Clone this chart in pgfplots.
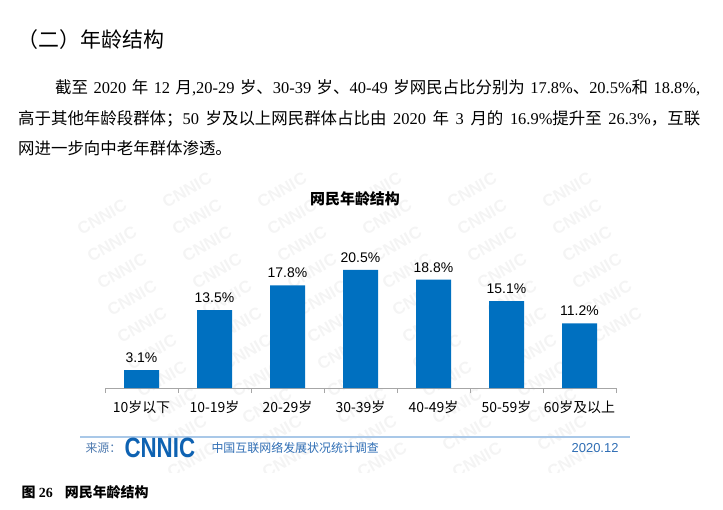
\documentclass[border=0pt]{standalone}
\usepackage{fontspec}
\usepackage{pgfplots}
\pgfplotsset{compat=1.18}
\setmainfont{Liberation Serif}
\newfontfamily\cjk{Noto Sans CJK SC}
\newfontfamily\arial{Liberation Sans}
\newcommand\zh[1]{{\cjk #1}}
\definecolor{barblue}{HTML}{0070C0}
\definecolor{wm}{HTML}{F4F4F4}
\definecolor{srcblue}{HTML}{2E6DB4}
\definecolor{srcgray}{HTML}{4F7BB0}
\definecolor{logoblue}{HTML}{0E62B2}
\definecolor{rulecol}{HTML}{A9C8E8}

\begin{document}
\begin{tikzpicture}
\useasboundingbox (0bp,0bp) rectangle (723bp,-510bp);

% watermark, only where the chart image lies
\begin{scope}[x=1bp,y=1bp]
\clip (78,-168) rectangle (648,-472);
\foreach \i in {-2,...,6}{
  \foreach \j in {0,...,10}{
    \pgfmathsetmacro\xx{92+95*\i+10*\j}
    \pgfmathtruncatemacro\ok{and(\xx>100,\xx<625)}
    \ifnum\ok=1
      \node[text=wm, rotate=30, font=\arial\bfseries\fontsize{17}{17}\selectfont]
        at (\xx,{-190-27*\j}) {CNNIC};
    \fi
  }}
\end{scope}

\begin{axis}[
  at={(105bp,-388bp)}, anchor=south west,
  scale only axis, width=511bp, height=144bp,
  xmin=-0.5, xmax=6.5, ymin=0, ymax=25,
  axis x line=bottom, axis y line=none,
  x axis line style={-, draw=gray!70, line width=0.8pt},
  xtick={0,1,2,3,4,5,6},
  xticklabels={10岁以下,10-19岁,20-29岁,30-39岁,40-49岁,50-59岁,60岁及以上},
  major tick length=0pt,
  extra x ticks={-0.5,0.5,1.5,2.5,3.5,4.5,5.5,6.5},
  extra x tick labels={},
  extra x tick style={major tick length=5bp, tick align=outside, tick style={draw=gray!70}},
  xticklabel style={font=\cjk\fontsize{14}{14}\selectfont, text=black, yshift=-9bp},
  ybar, bar width=35bp,
  /pgf/number format/assume math mode=true,
  nodes near coords={\pgfmathprintnumber[fixed,precision=1,fixed zerofill]{\pgfplotspointmeta}\%},
  nodes near coords style={font=\arial\fontsize{14}{14}\selectfont, text=black, yshift=4bp},
  clip=false,
]
\addplot[fill=barblue, draw=none] coordinates {
  (0,3.1) (1,13.5) (2,17.8) (3,20.5) (4,18.8) (5,15.1) (6,11.2)
};
\end{axis}

\begin{scope}[x=1bp,y=1bp]
% heading and text
\node[anchor=west, font=\cjk\fontsize{21}{21}\selectfont] at (14,-40) {（二）年龄结构};
\node[anchor=base west, inner sep=0, font=\fontsize{16.5}{16.5}\selectfont] at (55,-93)
  {\makebox[645bp][s]{\zh{截至} 2020 \zh{年} 12 \zh{月},20-29 \zh{岁、}30-39 \zh{岁、}40-49 \zh{岁网民占比分别为} 17.8\%\zh{、}20.5\%\zh{和} 18.8\%,}};
\node[anchor=base west, inner sep=0, font=\fontsize{16.5}{16.5}\selectfont] at (18,-124)
  {\makebox[682bp][s]{\zh{高于其他年龄段群体；}50 \zh{岁及以上网民群体占比由} 2020 \zh{年} 3 \zh{月的} 16.9\%\zh{提升至} 26.3\%\zh{，互联}}};
\node[anchor=base west, inner sep=0, font=\fontsize{16.5}{16.5}\selectfont] at (18,-154)
  {\zh{网进一步向中老年群体渗透。}};

% chart title
\node[font=\cjk\bfseries\fontsize{15}{15}\selectfont] at (355,-199) {网民年龄结构};

% source footer
\draw[rulecol, line width=1.5bp] (80,-437) -- (630,-437);
\node[anchor=west, font=\cjk\fontsize{12}{12}\selectfont, text=srcgray] at (82,-448) {来源：};
\node[anchor=west, text=logoblue, font=\arial\bfseries\fontsize{28}{28}\selectfont] at (121,-448) {\scalebox{0.8}[1]{CNNIC}};
\node[anchor=west, font=\cjk\fontsize{12}{12}\selectfont, text=srcblue] at (208,-448) {中国互联网络发展状况统计调查};
\node[anchor=east, font=\arial\fontsize{13}{13}\selectfont, text=srcblue] at (622,-448) {2020.12};

% caption
\node[anchor=west, font=\bfseries\fontsize{14}{14}\selectfont] at (18,-492) {\zh{图} 26\hspace{12bp}\zh{网民年龄结构}};
\end{scope}
\end{tikzpicture}
\end{document}
